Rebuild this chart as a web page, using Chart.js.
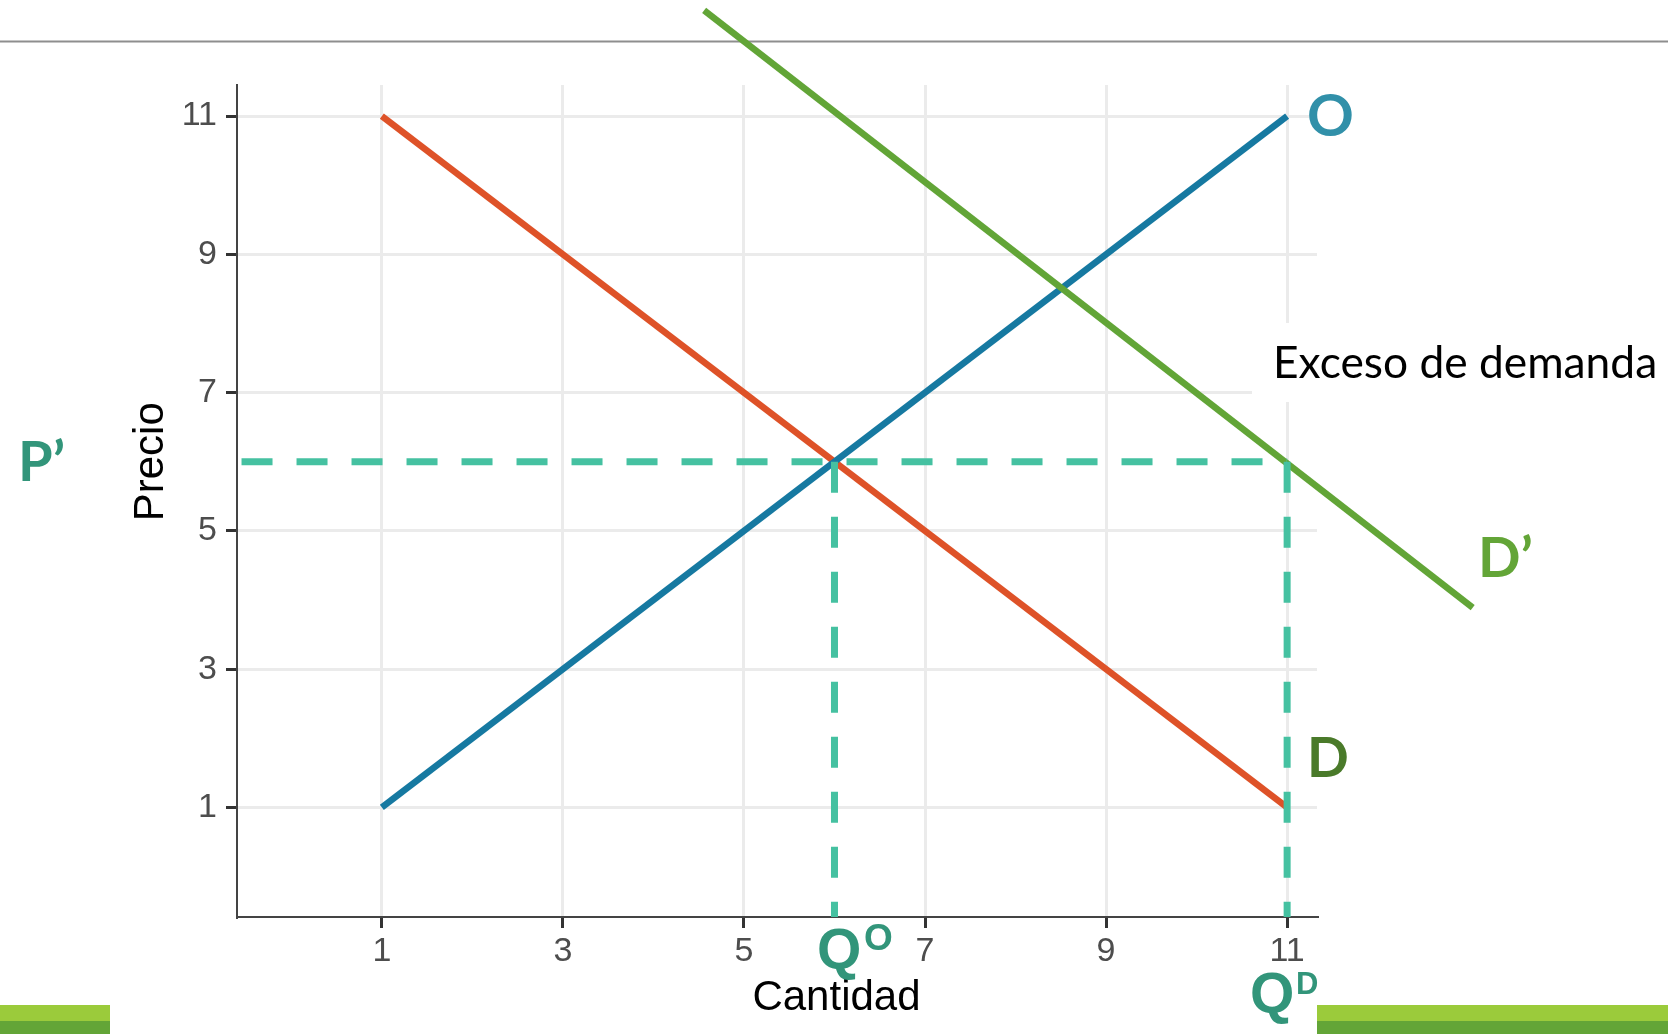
<!DOCTYPE html>
<html><head><meta charset="utf-8">
<script src="https://cdn.jsdelivr.net/npm/chart.js@4.4.1/dist/chart.umd.min.js"></script>
<style>html,body{margin:0;padding:0;background:#fff;overflow:hidden}canvas{display:block}</style>
</head><body>
<canvas id="c" width="1668" height="1034"></canvas>
<script>
// ---- data ----
const xTicks = [1, 3, 5, 7, 9, 11];
const yTicks = [1, 3, 5, 7, 9, 11];
const supplyQ = [1, 11];
const supplyP = [1, 11];
const demandQ = [1, 11];
const demandP = [11, 1];
const newDemandQ = [4.56, 13.05];
const newDemandP = [12.53, 3.89];
const priceP = 6;      // P'
const qOffer = 6;      // Q^O
const qDemand = 11;    // Q^D
const hLineStart = -0.55;
const X_MIN = -0.6, X_MAX = 11.33, Y_MIN = -0.585, Y_MAX = 11.45;

const pts = (xs, ys) => xs.map((x, i) => ({x, y: ys[i]}));

const deco = {
  id: 'deco',
  beforeDraw(chart) {
    const c = chart.ctx;
    c.save(); c.fillStyle = '#fff'; c.fillRect(0, 0, chart.width, chart.height); c.restore();
  },
  beforeDatasetsDraw(chart) {
    const c = chart.ctx;
    c.save();
    c.fillStyle = '#fff';
    c.fillRect(1252, 323, 420, 79);
    c.fillStyle = '#8E8E8E';
    c.fillRect(0, 40.5, chart.width, 2);
    c.restore();
  },
  afterDraw(chart) {
    const c = chart.ctx;
    const xs = chart.scales.x, ys = chart.scales.y;
    c.save();
    c.fillStyle = '#9BCB3B'; c.fillRect(0, 1005, 110, 16); c.fillRect(1317, 1005, 351, 16);
    c.fillStyle = '#63A537'; c.fillRect(0, 1021, 110, 13); c.fillRect(1317, 1021, 351, 13);

    c.textBaseline = 'alphabetic';
    c.fillStyle = '#000';
    c.font = '42px "Liberation Sans", Arial, sans-serif';
    c.textAlign = 'center';
    c.fillText('Cantidad', xs.getPixelForValue(qOffer) + 2, 1010);
    c.save();
    c.translate(163, ys.getPixelForValue(priceP));
    c.rotate(-Math.PI / 2);
    c.fillText('Precio', 0, 0);
    c.restore();

    c.textAlign = 'left';
    let fs = 42;
    c.font = fs + 'px Lato, "Open Sans", sans-serif';
    const w = c.measureText('Exceso de demanda').width;
    fs = fs * 384 / w;
    c.font = fs.toFixed(1) + 'px Lato, "Open Sans", sans-serif';
    c.fillText('Exceso de demanda', 1273, 378);

    c.font = 'bold 58px Lato, sans-serif';
    c.fillStyle = '#3190A9';
    c.fillText('O', 1307, 136);
    c.font = 'bold 55px Lato, sans-serif';
    c.fillStyle = '#4A7A2A';
    c.fillText('D', 1307, 777);
    c.font = 'bold 56px Lato, sans-serif';
    c.fillStyle = '#63A537';
    c.fillText('D\u2019', 1478, 577);
    c.font = 'bold 56px Lato, sans-serif';
    c.fillStyle = '#32957A';
    c.fillText('P\u2019', 18, 481);

    c.fillStyle = '#32957A';
    c.font = 'bold 57px "Liberation Sans", Arial, sans-serif';
    c.fillText('Q', 817, 969);
    c.fillText('Q', 1250, 1013);
    c.font = 'bold 37px "Liberation Sans", Arial, sans-serif';
    c.fillText('O', 864, 950);
    c.font = 'bold 31px "Liberation Sans", Arial, sans-serif';
    c.fillText('D', 1296, 994);
    c.restore();
  }
};

const dashed = {borderColor: '#45C1A1', borderWidth: 7, borderDash: [31, 24], showLine: true, pointRadius: 0, fill: false};

new Chart(document.getElementById('c'), {
  type: 'scatter',
  data: {
    datasets: [
      Object.assign({label: "P'", data: [{x: hLineStart, y: priceP}, {x: qDemand, y: priceP}], order: 0}, dashed),
      Object.assign({label: 'QO', data: [{x: qOffer, y: priceP}, {x: qOffer, y: Y_MIN}], order: 0}, dashed),
      Object.assign({label: 'QD', data: [{x: qDemand, y: priceP}, {x: qDemand, y: Y_MIN}], order: 0}, dashed),
      {label: "D'", data: pts(newDemandQ, newDemandP), borderColor: '#62A537', borderWidth: 6.5, showLine: true, pointRadius: 0, clip: false, order: 1},
      {label: 'O', data: pts(supplyQ, supplyP), borderColor: '#1679A1', borderWidth: 6.5, showLine: true, pointRadius: 0, order: 2},
      {label: 'D', data: pts(demandQ, demandP), borderColor: '#DE5228', borderWidth: 6.5, showLine: true, pointRadius: 0, order: 2}
    ]
  },
  options: {
    responsive: false, animation: false, devicePixelRatio: 1,
    layout: {padding: {top: 85, right: 351, left: 0, bottom: 0}},
    plugins: {legend: {display: false}, tooltip: {enabled: false}},
    scales: {
      x: {
        type: 'linear', min: X_MIN, max: X_MAX,
        afterBuildTicks: s => { s.ticks = xTicks.map(v => ({value: v})); },
        afterFit: s => { s.height = 117; },
        grid: {color: '#EBEBEB', lineWidth: 3, tickLength: 11, tickColor: '#333', tickWidth: 3, drawTicks: true},
        border: {display: true, color: '#444', width: 2},
        ticks: {font: {family: '"Liberation Sans", Arial, sans-serif', size: 34}, color: '#4D4D4D', padding: 3, maxRotation: 0, autoSkip: false, callback: v => String(v)}
      },
      y: {
        type: 'linear', min: Y_MIN, max: Y_MAX,
        afterBuildTicks: s => { s.ticks = yTicks.map(v => ({value: v})); },
        afterFit: s => { s.width = 237; },
        grid: {color: '#EBEBEB', lineWidth: 3, tickLength: 11, tickColor: '#333', tickWidth: 3, drawTicks: true},
        border: {display: true, color: '#444', width: 2},
        ticks: {font: {family: '"Liberation Sans", Arial, sans-serif', size: 34}, color: '#4D4D4D', padding: 9, autoSkip: false, callback: v => String(v)}
      }
    }
  },
  plugins: [deco]
});
</script>
</body></html>
